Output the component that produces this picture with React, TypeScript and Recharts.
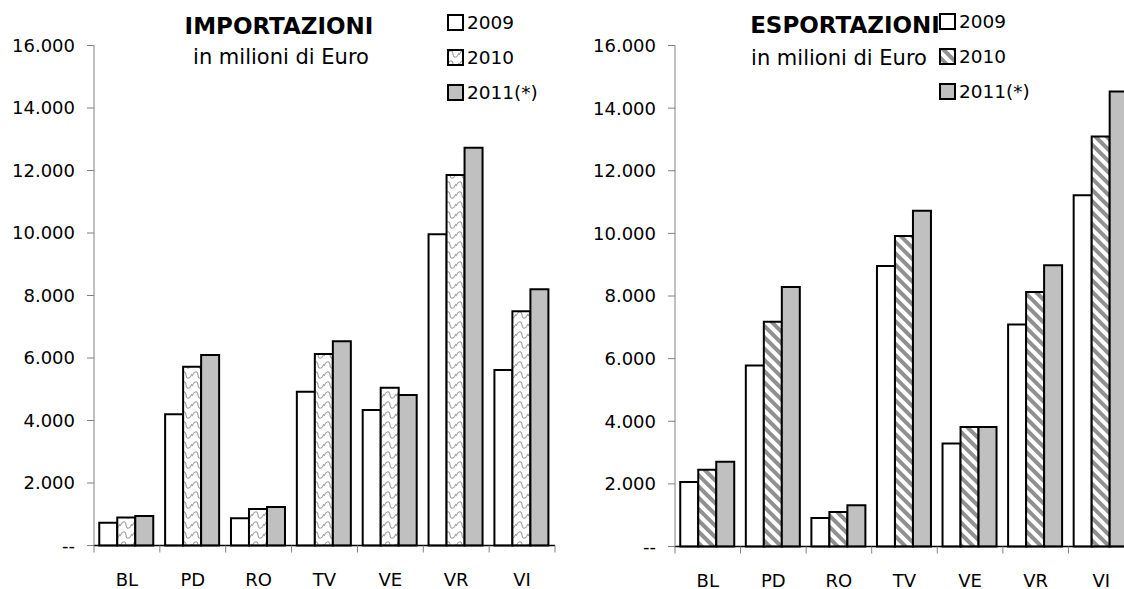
import React from "react";
import { BarChart, Bar, XAxis, YAxis, Legend } from "recharts";

const categories = ["BL", "PD", "RO", "TV", "VE", "VR", "VI"];
const years = ["2009", "2010", "2011(*)"];

const import2009 = [730, 4200, 870, 4920, 4340, 9960, 5620];
const import2010 = [900, 5720, 1170, 6130, 5050, 11860, 7500];
const import2011 = [945, 6100, 1230, 6540, 4820, 12730, 8200];

const export2009 = [2060, 5780, 910, 8960, 3290, 7090, 11220];
const export2010 = [2450, 7180, 1100, 9920, 3820, 8130, 13090];
const export2011 = [2710, 8290, 1320, 10720, 3820, 8980, 14530];

const yTicks = [0, 2000, 4000, 6000, 8000, 10000, 12000, 14000, 16000];

const FONT = "'DejaVu Sans', Verdana, sans-serif";

const fmt = (v: number) =>
  v === 0 ? "--" : String(v).replace(/\B(?=(\d{3})+(?!\d))/g, ".");

const buildRows = (a: number[], b: number[], c: number[]) =>
  categories.map((cat, i) => ({ cat, y2009: a[i], y2010: b[i], y2011: c[i] }));

const importData = buildRows(import2009, import2010, import2011);
const exportData = buildRows(export2009, export2010, export2011);

// category label in the middle, tick marks on the band edges (Excel style)
const CategoryTick = (props: any) => {
  const { x, y, payload, index } = props;
  const half = payload?.offset ?? 0;
  const last = index === categories.length - 1;
  return (
    <g>
      <line x1={x - half} x2={x - half} y1={y} y2={y + 7} stroke="#808080" />
      {last && <line x1={x + half} x2={x + half} y1={y} y2={y + 7} stroke="#808080" />}
      <text x={x} y={y + 40} textAnchor="middle" fill="#000" fontSize={18} fontFamily={FONT}>
        {payload.value}
      </text>
    </g>
  );
};

const ValueTick = (props: any) => {
  const { x, y, payload } = props;
  return (
    <text x={x} y={y} dy="0.36em" textAnchor="end" fill="#000" fontSize={18} fontFamily={FONT}>
      {fmt(payload.value)}
    </text>
  );
};

const LegendBox = ({ patternId }: { patternId: string }) => {
  const fills = ["#ffffff", `url(#${patternId})`, "#c0c0c0"];
  return (
    <div style={{ fontFamily: FONT, fontSize: 18.5, color: "#000" }}>
      {years.map((y, i) => (
        <div key={y} style={{ display: "flex", alignItems: "center", height: 35 }}>
          <svg width={17} height={17} style={{ marginRight: 3 }}>
            <rect x={1} y={1} width={15} height={15} fill={fills[i]} stroke="#000" strokeWidth={2} />
          </svg>
          <span>{y}</span>
        </div>
      ))}
    </div>
  );
};

interface PanelProps {
  data: any[];
  patternId: string;
  pattern: React.ReactNode;
  width: number;
  yAxisWidth: number;
  bottom: number;
  legendLeft: number;
  legendTop: number;
}

const Panel = ({ data, patternId, pattern, width, yAxisWidth, bottom, legendLeft, legendTop }: PanelProps) => (
  <BarChart
    width={width}
    height={589}
    data={data}
    margin={{ top: 45.5, right: 5, left: 0, bottom }}
    barCategoryGap="8%"
    barGap={0}
  >
    <defs>{pattern}</defs>
    <XAxis
      dataKey="cat"
      interval={0}
      axisLine={{ stroke: "#000", strokeWidth: 1.5 }}
      tickLine={false}
      tickSize={0}
      tickMargin={0}
      height={30}
      tick={<CategoryTick />}
    />
    <YAxis
      width={yAxisWidth}
      domain={[0, 16000]}
      ticks={yTicks}
      interval={0}
      tickSize={7}
      tickMargin={12}
      axisLine={{ stroke: "#808080" }}
      tickLine={{ stroke: "#808080" }}
      tick={<ValueTick />}
    />
    <Legend
      layout="vertical"
      align="center"
      verticalAlign="middle"
      wrapperStyle={{ left: legendLeft, top: legendTop, width: 110 }}
      content={() => <LegendBox patternId={patternId} />}
    />
    <Bar dataKey="y2009" fill="#ffffff" stroke="#000" strokeWidth={2} isAnimationActive={false} />
    <Bar dataKey="y2010" fill={`url(#${patternId})`} stroke="#000" strokeWidth={2} isAnimationActive={false} />
    <Bar dataKey="y2011" fill="#c0c0c0" stroke="#000" strokeWidth={2} isAnimationActive={false} />
  </BarChart>
);

// sideways "S" waves, light grey on white
const wavePattern = (
  <pattern id="waveFill" width="12" height="10" patternUnits="userSpaceOnUse">
    <rect width="12" height="10" fill="#fff" />
    <path d="M0,6 C2.5,0.5 5.5,0.5 6,5 C6.5,9.5 9.5,9.5 12,4" fill="none" stroke="#a0a0a0" strokeWidth="1.1" />
  </pattern>
);

const stripePattern = (
  <pattern id="stripeFill" width="8" height="8" patternUnits="userSpaceOnUse" patternTransform="rotate(-45)">
    <rect width="8" height="8" fill="#fff" />
    <rect x="0" y="0" width="4" height="8" fill="#909090" />
  </pattern>
);

export default function App() {
  return (
    <div style={{ position: "absolute", left: 0, top: 0, width: 1124, height: 589, overflow: "hidden", background: "#fff" }}>
      <div style={{ position: "absolute", left: 0, top: 0 }}>
        <Panel
          data={importData}
          patternId="waveFill"
          pattern={wavePattern}
          width={560}
          yAxisWidth={94}
          bottom={13.5}
          legendLeft={447}
          legendTop={4.5}
        />
      </div>
      <div style={{ position: "absolute", left: 560, top: 0 }}>
        <Panel
          data={exportData}
          patternId="stripeFill"
          pattern={stripePattern}
          width={579}
          yAxisWidth={115}
          bottom={12.5}
          legendLeft={379}
          legendTop={3.5}
        />
      </div>
      <svg
        width={1124}
        height={589}
        style={{ position: "absolute", left: 0, top: 0, pointerEvents: "none" }}
        fontFamily={FONT}
      >
        <text x={279} y={34} textAnchor="middle" fontWeight="bold" fontSize={23}>IMPORTAZIONI</text>
        <text x={281} y={64} textAnchor="middle" fontSize={21}>in milioni di Euro</text>
        <text x={845} y={33} textAnchor="middle" fontWeight="bold" fontSize={23}>ESPORTAZIONI</text>
        <text x={839} y={65} textAnchor="middle" fontSize={21}>in milioni di Euro</text>
      </svg>
    </div>
  );
}
